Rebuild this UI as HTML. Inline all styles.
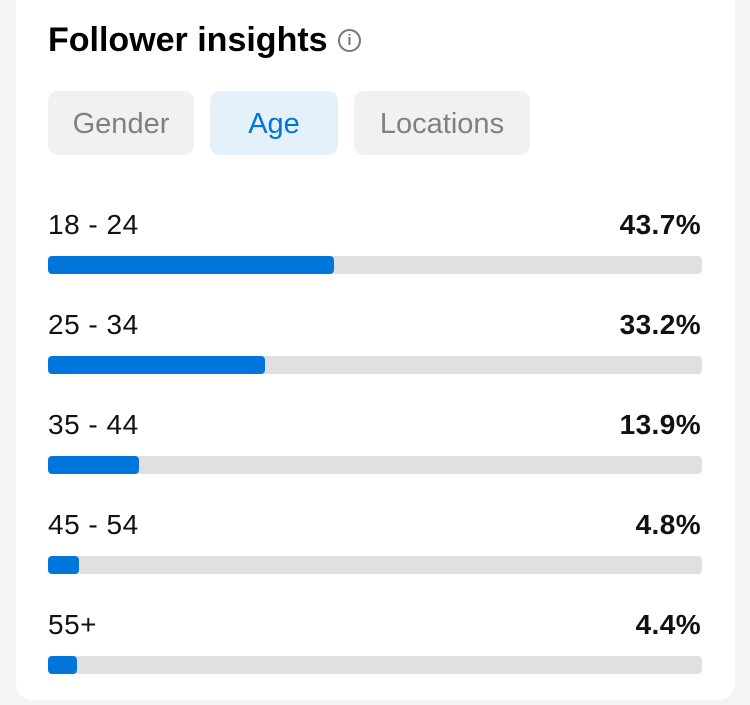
<!DOCTYPE html><html><head><style>
body{margin:0;width:750px;height:705px;background:#f4f4f4;font-family:"Liberation Sans",sans-serif;position:relative;overflow:hidden}
.card{position:absolute;left:16px;top:-20px;width:719px;height:720px;background:#fff;border-radius:16px}
.t{position:absolute;left:48px;top:21px;font-size:34px;font-weight:bold;color:#000}
.info{position:absolute;left:338px;top:29px;width:23px;height:23px;border:2px solid #777;border-radius:50%;box-sizing:border-box;color:#777;font-size:15px;text-align:center;line-height:20px;font-weight:bold}
.tab{position:absolute;top:91px;height:64px;border-radius:10px;background:#f1f1f1;color:#808080;font-size:29px;line-height:66px;text-align:center}
.lab{position:absolute;left:48px;font-size:28px;letter-spacing:0.5px;color:#111}
.val{position:absolute;right:49px;font-size:28px;font-weight:bold;letter-spacing:0.4px;color:#111}
.bar{position:absolute;left:48px;width:654px;height:18px;background:#e0e0e0;border-radius:4px}
.bar div{height:100%;background:#0075db;border-radius:4px}
</style></head><body>
<div class="card"></div>
<div class="t">Follower insights</div><div class="info">i</div>
<div class="tab" style="left:48px;width:146px">Gender</div>
<div class="tab" style="left:210px;width:128px;background:#e4f0fa;color:#0075db">Age</div>
<div class="tab" style="left:354px;width:176px">Locations</div>
<div class="lab" style="top:209px">18 - 24</div><div class="val" style="top:209px">43.7%</div><div class="bar" style="top:256px"><div style="width:286px"></div></div>
<div class="lab" style="top:309px">25 - 34</div><div class="val" style="top:309px">33.2%</div><div class="bar" style="top:356px"><div style="width:217px"></div></div>
<div class="lab" style="top:409px">35 - 44</div><div class="val" style="top:409px">13.9%</div><div class="bar" style="top:456px"><div style="width:91px"></div></div>
<div class="lab" style="top:509px">45 - 54</div><div class="val" style="top:509px">4.8%</div><div class="bar" style="top:556px"><div style="width:31px"></div></div>
<div class="lab" style="top:609px">55+</div><div class="val" style="top:609px">4.4%</div><div class="bar" style="top:656px"><div style="width:29px"></div></div>
</body></html>
